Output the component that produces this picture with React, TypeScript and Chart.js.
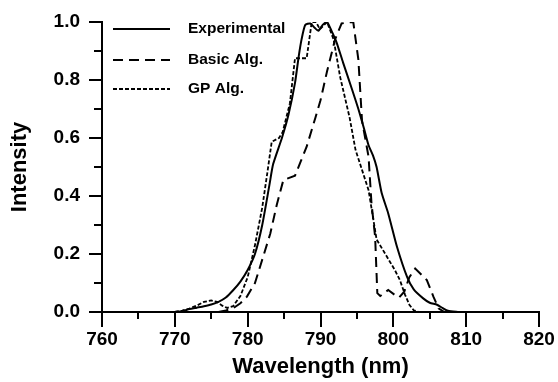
import React, { useEffect, useRef } from "react";
import { Chart, registerables } from "chart.js";

Chart.register(...registerables);

// ---- Data ----
const expWl = [770, 771, 772, 773, 774, 775, 776, 777, 778, 779, 780, 781, 782, 783, 783.5, 784.7, 785.6, 786.5, 787, 787.4, 787.9, 788.6, 789.2, 789.7, 790.3, 790.9, 791.5, 792.2, 793.1, 794.3, 795.2, 796, 796.6, 797.2, 797.7, 798.4, 799.3, 800.5, 801.9, 802.8, 804.1, 805, 806, 806.8, 807.5, 809];
const expI = [0, 0.003, 0.01, 0.015, 0.02, 0.026, 0.035, 0.05, 0.075, 0.105, 0.145, 0.2, 0.3, 0.44, 0.51, 0.6, 0.68, 0.79, 0.88, 0.94, 0.99, 0.995, 0.98, 0.97, 0.99, 1.0, 0.97, 0.93, 0.86, 0.77, 0.7, 0.63, 0.575, 0.54, 0.5, 0.41, 0.34, 0.225, 0.12, 0.078, 0.047, 0.032, 0.025, 0.013, 0.004, 0];

const basicWl = [776, 777, 778, 779, 779.9, 781, 781.7, 783.1, 784, 784.9, 786.5, 787.3, 788.1, 789.3, 790, 790.9, 792, 792.9, 793.7, 794.5, 795.2, 795.7, 796.6, 797, 797.5, 797.8, 798.2, 799.3, 800.2, 800.8, 801.5, 802.2, 803, 804.6, 805.5, 806.2, 807];
const basicI = [0, 0.005, 0.013, 0.03, 0.053, 0.1, 0.156, 0.27, 0.37, 0.455, 0.47, 0.52, 0.57, 0.67, 0.73, 0.83, 0.94, 0.995, 0.998, 1.0, 0.87, 0.66, 0.535, 0.375, 0.26, 0.065, 0.055, 0.076, 0.059, 0.05, 0.07, 0.12, 0.15, 0.11, 0.053, 0.013, 0];

const gpWl = [770, 771, 772, 773, 774, 775, 775.8, 776.5, 777.2, 778, 779, 780, 781, 782, 782.7, 783.3, 784.3, 784.8, 785.8, 786.5, 788.1, 788.8, 789.4, 789.9, 790.9, 791.8, 792.7, 794, 794.8, 795.7, 796.6, 797.7, 798.9, 800.2, 800.9, 801.6, 802.2, 802.8, 803.5];
const gpI = [0, 0.005, 0.012, 0.022, 0.035, 0.04, 0.035, 0.022, 0.014, 0.02, 0.055, 0.12, 0.23, 0.36, 0.48, 0.587, 0.6, 0.62, 0.72, 0.875, 0.875, 1.0, 1.0, 0.975, 1.0, 0.94, 0.81, 0.67, 0.56, 0.49, 0.42, 0.25, 0.2, 0.145, 0.11, 0.06, 0.025, 0.006, 0];

const seriesLabels = ["Experimental", "Basic Alg.", "GP Alg."];
const xMin = 760;
const xMax = 820;
const xMajorStep = 10;
const yMin = 0;
const yMax = 1.0;
const yMajorStep = 0.2;

const FONT = "'Liberation Sans', Arial, Helvetica, sans-serif";
const TICK_SIZE = 19;

const zip = (xs: number[], ys: number[]) => xs.map((x, i) => ({ x, y: ys[i] }));

const tickPlugin = {
  id: "customTicks",
  afterDraw(chart: any) {
    const { ctx, chartArea, scales } = chart;
    const xs = scales.x;
    const ys = scales.y;
    ctx.save();
    ctx.strokeStyle = "#000";
    ctx.lineWidth = 2;
    ctx.beginPath();
    for (let i = 0; i <= 10; i++) {
      const v = yMin + i * 0.1;
      const py = Math.round(ys.getPixelForValue(v));
      const len = i % 2 === 0 ? 13 : 8;
      ctx.moveTo(chartArea.left, py);
      ctx.lineTo(chartArea.left - len, py);
    }
    for (let i = 0; i <= 12; i++) {
      const v = xMin + i * 5;
      const px = Math.round(xs.getPixelForValue(v));
      const len = i % 2 === 0 ? 15 : 7;
      ctx.moveTo(px, chartArea.bottom);
      ctx.lineTo(px, chartArea.bottom + len);
    }
    ctx.stroke();
    ctx.restore();
  },
};

const legendPlugin = {
  id: "customLegend",
  afterDraw(chart: any) {
    const { ctx } = chart;
    const rows = [29, 60, 89];
    ctx.save();
    chart.data.datasets.forEach((ds: any, i: number) => {
      const y = rows[i];
      ctx.beginPath();
      ctx.strokeStyle = "#000";
      ctx.lineWidth = ds.borderWidth;
      ctx.setLineDash(ds.borderDash || []);
      ctx.moveTo(113, y);
      ctx.lineTo(170, y);
      ctx.stroke();
      ctx.setLineDash([]);
      ctx.fillStyle = "#000";
      ctx.font = `bold 15.5px ${FONT}`;
      ctx.textBaseline = "middle";
      ctx.textAlign = "left";
      ctx.fillText(ds.label, 188, y);
    });
    ctx.restore();
  },
};

export default function App() {
  const ref = useRef<HTMLCanvasElement | null>(null);
  useEffect(() => {
    if (!ref.current) return;
    const chart = new Chart(ref.current, {
      type: "line",
      data: {
        datasets: [
          {
            label: seriesLabels[0],
            data: zip(expWl, expI),
            borderColor: "#000",
            borderWidth: 2,
            pointRadius: 0,
            tension: 0.2,
            fill: false,
          },
          {
            label: seriesLabels[1],
            data: zip(basicWl, basicI),
            borderColor: "#000",
            borderWidth: 2,
            borderDash: [10, 6],
            pointRadius: 0,
            tension: 0,
            fill: false,
          },
          {
            label: seriesLabels[2],
            data: zip(gpWl, gpI),
            borderColor: "#000",
            borderWidth: 1.8,
            borderDash: [4, 2],
            pointRadius: 0,
            tension: 0,
            fill: false,
          },
        ],
      },
      options: {
        responsive: false,
        animation: false,
        devicePixelRatio: 1,
        layout: { padding: { left: 0, top: 22, right: 19, bottom: 0 } },
        plugins: {
          legend: { display: false },
          tooltip: { enabled: false },
        },
        scales: {
          x: {
            type: "linear",
            min: xMin,
            max: xMax,
            ticks: {
              stepSize: xMajorStep,
              color: "#000",
              font: { family: FONT, size: TICK_SIZE, weight: "bold" },
              padding: 0,
              maxRotation: 0,
            },
            grid: { display: false, drawTicks: true, tickLength: 16 },
            border: { display: true, color: "#000", width: 2 },
            title: {
              display: true,
              text: "Wavelength (nm)",
              color: "#000",
              font: { family: FONT, size: 22, weight: "bold" },
              padding: { top: 0, bottom: 2 },
            },
            afterFit: (s: any) => {
              s.height = 70;
            },
          },
          y: {
            type: "linear",
            min: yMin,
            max: yMax,
            ticks: {
              stepSize: yMajorStep,
              color: "#000",
              font: { family: FONT, size: TICK_SIZE, weight: "bold" },
              padding: 0,
              callback: (v: any) => Number(v).toFixed(1),
            },
            grid: { display: false, drawTicks: true, tickLength: 22 },
            border: { display: true, color: "#000", width: 2 },
            title: {
              display: true,
              text: "Intensity",
              color: "#000",
              font: { family: FONT, size: 22, weight: "bold" },
              padding: { top: 7, bottom: 0 },
            },
            afterFit: (s: any) => {
              s.width = 102;
            },
          },
        },
      },
      plugins: [tickPlugin, legendPlugin],
    });
    return () => chart.destroy();
  }, []);
  return (
    <div style={{ position: "fixed", left: 0, top: 0, width: 558, height: 382, background: "#fff" }}>
      <canvas ref={ref} width={558} height={382} style={{ width: 558, height: 382 }} />
    </div>
  );
}
